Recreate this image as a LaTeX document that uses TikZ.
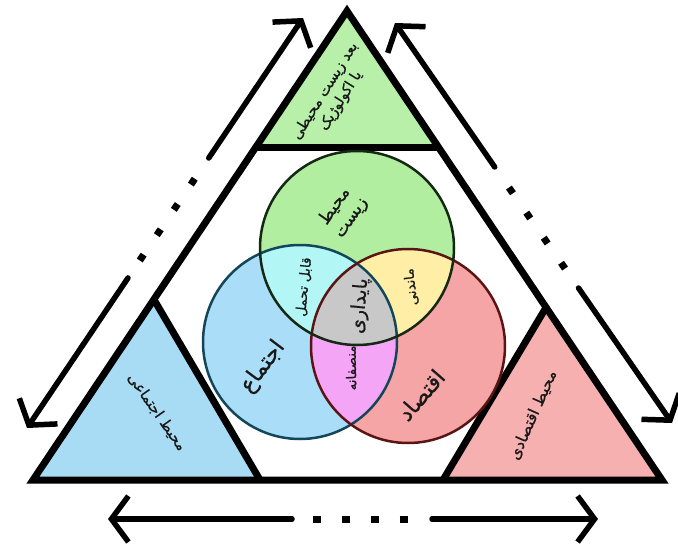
\documentclass[tikz,border=0pt]{standalone}
\usepackage{fontspec}
\newfontfamily\fa[Script=Arabic,FakeBold=0.8]{DejaVu Sans}
\TeXXeTstate=1
\usetikzlibrary{arrows.meta,calc}
\definecolor{topG}{RGB}{184,240,170}
\definecolor{leftB}{RGB}{168,220,245}
\definecolor{rightP}{RGB}{247,176,176}
\definecolor{vG}{RGB}{178,238,160}
\definecolor{vB}{RGB}{170,222,248}
\definecolor{vP}{RGB}{245,165,165}
\definecolor{vC}{RGB}{178,246,246}
\definecolor{vY}{RGB}{255,238,165}
\definecolor{vM}{RGB}{245,165,245}
\definecolor{vGr}{RGB}{200,200,200}
\definecolor{oG}{RGB}{20,40,20}
\definecolor{oB}{RGB}{20,70,90}
\definecolor{oP}{RGB}{90,20,20}
\definecolor{ink}{RGB}{25,25,25}
\begin{document}
\begin{tikzpicture}[x=1pt,y=-1pt,
  frame/.style={line width=7pt,line join=miter,black},
  arrowline/.style={line width=5.5pt,line cap=round,black,
     -{Straight Barb[length=17pt,width=46pt]}},
  dotline/.style={line width=7pt,black,
     dash pattern=on 0pt off 25pt on 7pt off 23.5pt on 7pt off 23.5pt on 7pt off 23.5pt on 7pt off 300pt},
  txt/.style={inner sep=0pt,text=ink},
  ring/.style={line width=2.5pt}]
\useasboundingbox (0,0) rectangle (678,549);
% main triangle
\coordinate (A) at (347,11);
\coordinate (BL) at (33,480);
\coordinate (BR) at (662,480);
\coordinate (TL) at ($(A)!0.2900!(BL)$);
\coordinate (TR) at ($(A)!0.2900!(BR)$);
\coordinate (LA) at ($(A)!0.615!(BL)$);
\coordinate (LB) at (260,480);
\coordinate (RA) at ($(A)!0.632!(BR)$);
\coordinate (RB) at (443,480);
\fill[topG] (A) -- (TL) -- (TR) -- cycle;
\fill[leftB] (LA) -- (BL) -- (LB) -- cycle;
\fill[rightP] (RA) -- (RB) -- (BR) -- cycle;
\draw[frame] (A) -- (BL) -- (BR) -- cycle;
\draw[frame] (TL) -- (TR);
\draw[frame] (LA) -- (LB);
\draw[frame] (RA) -- (RB);
% Venn
\coordinate (G) at (357,248);
\coordinate (S) at (300,342);
\coordinate (E) at (408,346);
\fill[vG] (G) circle (97);
\fill[vB] (S) circle (97);
\fill[vP] (E) circle (97);
\begin{scope}
  \clip (G) circle (97);
  \fill[vC] (S) circle (97);
  \fill[vY] (E) circle (97);
\end{scope}
\begin{scope}
  \clip (S) circle (97);
  \fill[vM] (E) circle (97);
  \clip (G) circle (97);
  \fill[vGr] (E) circle (97);
\end{scope}
\draw[ring,oB] (S) circle (97);
\draw[ring,oP] (E) circle (97);
\draw[ring,oG] (G) circle (97);
% arrows
\coordinate (LT) at (303,18);
\coordinate (LBt) at (27,428);
\coordinate (L1) at ($(LT)!0.3415!(LBt)$);
\coordinate (L2) at ($(LT)!0.634!(LBt)$);
\draw[arrowline] (L1) -- (LT);
\draw[arrowline] (L2) -- (LBt);
\draw[dotline] (L1) -- (L2);
\coordinate (RT) at (395,23);
\coordinate (RBt) at (672,423);
\coordinate (R1) at ($(RT)!0.36!(RBt)$);
\coordinate (R2) at ($(RT)!0.6625!(RBt)$);
\draw[arrowline] (R1) -- (RT);
\draw[arrowline] (R2) -- (RBt);
\draw[dotline] (R1) -- (R2);
\coordinate (BLt) at (108,519);
\coordinate (B1) at (292,519);
\coordinate (B2) at (432,519);
\coordinate (BRt) at (598,519);
\draw[arrowline] (B1) -- (BLt);
\draw[arrowline] (B2) -- (BRt);
\draw[line width=7pt,black,dash pattern=on 0pt off 21pt on 8pt off 20.5pt on 8pt off 21pt on 8pt off 21pt on 8pt off 300pt] (B1) -- (B2);
% texts
\node[txt,font=\fa\fontsize{14.5}{18.5}\selectfont,rotate=58,align=center] (tTop) at (333,96)
  {\beginR بعد زیست محیطی\endR\\\beginR یا اکولوژیک\endR};
\node[txt,font=\fa\fontsize{14.5}{17}\selectfont,rotate=-55] (tLeft) at (157,412)
  {\beginR محیط اجتماعی\endR};
\node[txt,font=\fa\fontsize{15.5}{18}\selectfont,rotate=66] (tRight) at (533,415)
  {\beginR محیط اقتصادی\endR};
\node[txt,font=\fa\fontsize{17}{20}\selectfont,rotate=55,align=center] (tG) at (343,212)
  {\beginR محیط\endR\\\beginR زیست\endR};
\node[txt,font=\fa\fontsize{22}{24}\selectfont,rotate=53] (tS) at (263,367)
  {\beginR اجتماع\endR};
\node[txt,font=\fa\fontsize{22}{24}\selectfont,rotate=49] (tE) at (421,395)
  {\beginR اقتصاد\endR};
\node[txt,font=\fa\fontsize{13.5}{15}\selectfont,rotate=84] (tC) at (304,287)
  {\beginR قابل تحمل\endR};
\node[txt,font=\fa\fontsize{13.5}{15}\selectfont,rotate=97] (tY) at (411,287)
  {\beginR ماندنی\endR};
\node[txt,font=\fa\fontsize{13.5}{15}\selectfont,rotate=91] (tM) at (351,368)
  {\beginR منصفانه\endR};
\node[txt,font=\fa\fontsize{19}{22}\selectfont,rotate=85] (tGr) at (360,306)
  {\beginR پایداری\endR};
\end{tikzpicture}
\end{document}
